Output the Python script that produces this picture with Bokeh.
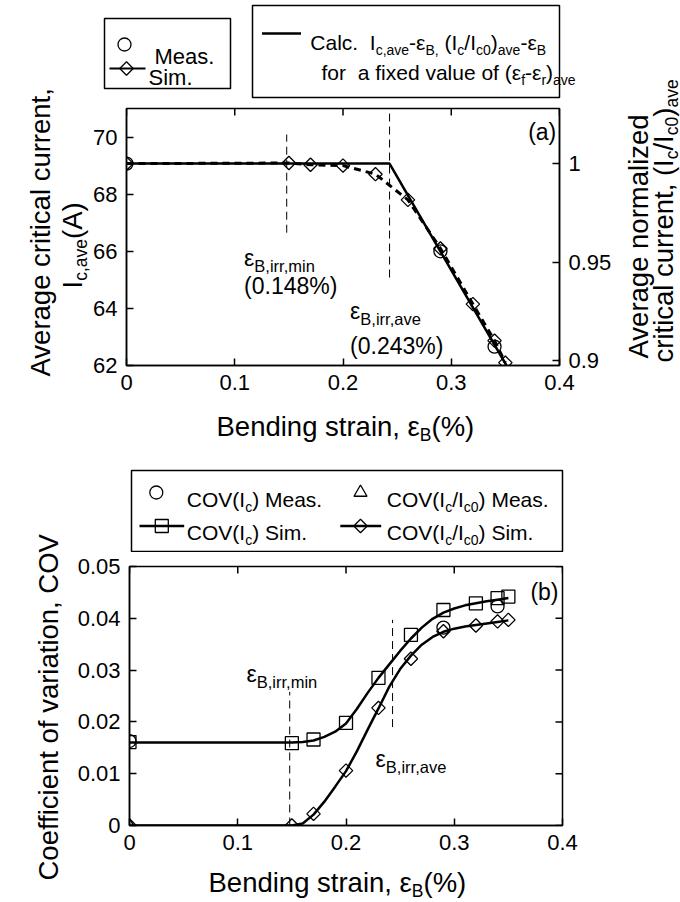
import numpy as np
from bokeh.plotting import figure
from bokeh.models import Range1d, LinearAxis, FixedTicker, NumeralTickFormatter, Label
from bokeh.layouts import column, row
from bokeh.embed import file_html
from bokeh.resources import INLINE

FONT = "Liberation Sans"

# ---------------- panel (a) data ----------------
strain_a_meas = [0.0, 0.29, 0.34]
ic_ave_meas = [69.07, 66.0, 62.66]
strain_a_sim = [0.0, 0.15, 0.17, 0.20, 0.23, 0.26, 0.29, 0.32, 0.34, 0.35]
ic_ave_sim = [69.07, 69.09, 69.03, 69.0, 68.7, 67.8, 66.1, 64.15, 62.87, 62.1]
strain_a_calc = [0.0, 0.243, 0.351]
ic_ave_calc = [69.07, 69.07, 62.0]
ic0 = 69.07
eps_irr = [0.148, 0.243]
vline_a_low = [66.65, 65.08]
vline_a_high = [70.09, 71.0]
a_xticks = [0, 0.1, 0.2, 0.3, 0.4]
a_yticks = [62, 64, 66, 68, 70]
a_rticks = [0.9, 0.95, 1.0]
a_yrange = (62, 71)
a_xrange = (0, 0.4)

# ---------------- panel (b) data ----------------
strain_b_sim = [0.0, 0.15, 0.17, 0.20, 0.23, 0.26, 0.29, 0.32, 0.34, 0.35]
cov_ic_sim = [0.0161, 0.0159, 0.0166, 0.0198, 0.0285, 0.0368, 0.0416, 0.0429, 0.0439, 0.0442]
cov_norm_sim = [0.0, 0.0, 0.00225, 0.0106, 0.0227, 0.0322, 0.0375, 0.0386, 0.0394, 0.0397]
strain_b_meas = [0.0, 0.29, 0.34]
cov_ic_meas = [0.0163, 0.0382, 0.0423]
strain_b_meas_norm = [0.0]
cov_norm_meas = [0.0]
fit_strain_b = [0.0, 0.15, 0.16, 0.17, 0.18, 0.19, 0.20, 0.21, 0.22, 0.23, 0.24,
                0.25, 0.26, 0.27, 0.28, 0.29, 0.30, 0.31, 0.32, 0.33, 0.34, 0.35]
fit_cov_ic = [0.016, 0.016, 0.0161, 0.0164, 0.0171, 0.0181, 0.0197, 0.0225, 0.0256, 0.0285, 0.0311,
              0.0337, 0.0361, 0.0382, 0.0399, 0.0411, 0.0419, 0.0425, 0.0429, 0.0433, 0.0436, 0.0439]
fit_cov_norm = [0.0, 0.0, 0.0004, 0.0021, 0.0046, 0.0075, 0.0105, 0.0143, 0.0185, 0.0226, 0.0268,
                0.0302, 0.0328, 0.0349, 0.0364, 0.0374, 0.038, 0.0384, 0.0387, 0.039, 0.0393, 0.0396]
vline_b_low = [0.0, 0.019]
vline_b_high = [0.0258, 0.0397]
b_xticks = [0, 0.1, 0.2, 0.3, 0.4]
b_yticks = [0, 0.01, 0.02, 0.03, 0.04, 0.05]
b_yrange = (0, 0.05)
b_xrange = (0, 0.4)

# ---------------- text helpers (Arial / Liberation Sans metrics) ----------------
AW = {}
for ch, w in zip("abcdefghijklmnopqrstuvwxyz",
                 [556, 556, 500, 556, 556, 278, 556, 556, 222, 222, 500, 222, 833, 556, 556, 556, 556,
                  333, 500, 278, 556, 500, 722, 500, 500, 500]):
    AW[ch] = w
for ch, w in zip("ABCDEFGHIJKLMNOPQRSTUVWXYZ",
                 [667, 667, 722, 722, 667, 611, 778, 722, 278, 500, 667, 556, 833, 722, 778, 667, 778,
                  722, 667, 611, 722, 667, 944, 667, 667, 611]):
    AW[ch] = w
for ch in "0123456789":
    AW[ch] = 556
AW.update({" ": 278, ".": 278, ",": 278, "(": 333, ")": 333, "%": 889, "/": 278, "-": 333, "ε": 446})


def tw(s, size):
    return sum(AW.get(c, 556) for c in s) * size / 1000.0


def rich(p, x, y, segs, units="data", align="left", angle=0.0):
    total = sum(tw(t, s) for t, s, _ in segs)
    pos = {"left": 0.0, "center": -total / 2.0, "right": -total}[align]
    for t, s, sh in segs:
        core = t.strip(" ")
        lead = len(t) - len(t.lstrip(" "))
        start = pos + tw(" " * lead, s)
        if angle == 0:
            xo, yo = start, -sh
        else:
            xo, yo = sh, start
        p.add_layout(Label(x=x, y=y, x_units=units, y_units=units, text=core,
                           x_offset=xo, y_offset=yo, angle=angle,
                           text_font=FONT, text_font_size=f"{s}px", text_color="black",
                           text_align="left", text_baseline="alphabetic"))
        pos += tw(t, s)


def style_axis(ax, ticks, fmt="0.[00]"):
    ax.ticker = FixedTicker(ticks=ticks)
    ax.formatter = NumeralTickFormatter(format=fmt)
    ax.major_tick_in = 7
    ax.major_tick_out = 0
    ax.minor_tick_line_color = None
    ax.axis_line_width = 1.5
    ax.axis_line_color = "black"
    ax.major_tick_line_width = 1.5
    ax.major_tick_line_color = "black"
    ax.major_label_text_font = FONT
    ax.major_label_text_color = "black"
    ax.major_label_text_font_size = "22px"
    ax.major_label_standoff = 9
    ax.axis_label = None


def canvas(x0, x1, y0, y1):
    """Axis-less figure whose data coordinates are page pixels (y downwards)."""
    f = figure(width=int(x1 - x0), height=int(y1 - y0), x_range=Range1d(x0, x1), y_range=Range1d(y1, y0),
               min_border=0, x_axis_location=None, y_axis_location=None, frame_align=False,
               toolbar_location=None, output_backend="svg", outline_line_color=None)
    f.grid.visible = False
    return f


OPEN = dict(fill_color=None, line_color="black", line_width=1.3)
DIAM = dict(marker="square", angle=np.pi / 4)
LAB = 27.5
SUB = 17.5
R90 = np.pi / 2

# ---------------- page regions (page pixels) ----------------
leftA = canvas(0, 90, 0, 397)
rightA = canvas(612, 680, 0, 397)
lega = canvas(90, 612, 0, 100)
leftB = canvas(0, 72, 397, 900)
midB = canvas(72, 680, 397, 552)
botB = canvas(72, 680, 855, 900)

# ---------------- legend (a) ----------------
lega.quad(left=[104, 252], right=[230, 559], top=[18, 5], bottom=[88, 97],
          fill_color=None, line_color="black", line_width=1.5)
lega.scatter([124], [44], marker="circle", size=13, **OPEN)
rich(lega, 154, 56, [("Meas.", 22, 0)])
lega.line([109, 145], [68, 68], line_color="black", line_width=2)
lega.scatter([126], [68], size=9.5, **DIAM, **OPEN)
rich(lega, 148, 77, [("Sim.", 22, 0)])
lega.line([261.5, 300.5], [33, 33], line_color="black", line_width=2.5)
rich(lega, 309.8, 42, [("Calc.", 21, 0), ("  I", 21, 0), ("c,ave", 14, 7), ("-ε", 21, 0), ("B,", 14, 7),
                       (" (I", 21, 0), ("c", 14, 7), ("/I", 21, 0), ("c0", 14, 7), (")", 21, 0),
                       ("ave", 14, 7), ("-ε", 21, 0), ("B", 14, 7)])
rich(lega, 321, 72, [("for", 21, 0), ("  a fixed value of (ε", 21, 0), ("f", 14, 7), ("-ε", 21, 0),
                     ("r", 14, 7), (")", 21, 0), ("ave", 14, 7)])

# ---------------- panel (a) ----------------
pa = figure(frame_width=433, frame_height=257, x_range=Range1d(*a_xrange), y_range=Range1d(*a_yrange),
            min_border_left=34, min_border_right=55, min_border_top=8, min_border_bottom=32,
            frame_align=False, toolbar_location=None, output_backend="svg")
pa.extra_y_ranges = {"norm": Range1d(a_yrange[0] / ic0, a_yrange[1] / ic0)}
pa.grid.visible = False
pa.outline_line_color = "black"
pa.outline_line_width = 1.5
style_axis(pa.xaxis[0], a_xticks)
style_axis(pa.yaxis[0], a_yticks, fmt="0")
ax_r = LinearAxis(y_range_name="norm")
style_axis(ax_r, a_rticks)
pa.add_layout(ax_r, "right")
# inward ticks on the top edge (only the inner half of a centred bar is inside the frame)
pa.rect(x=a_xticks, y=[a_yrange[1]] * len(a_xticks), width=1.5, height=14,
        width_units="screen", height_units="screen", fill_color="black", line_color=None)

pa.segment(x0=eps_irr, y0=vline_a_low, x1=eps_irr, y1=vline_a_high,
           line_color="black", line_width=1, line_dash="8 5")
pa.line(strain_a_calc, ic_ave_calc, line_color="black", line_width=2.5)
pa.line(strain_a_sim, ic_ave_sim, line_color="black", line_width=3, line_dash="7 5")
pa.scatter(strain_a_sim, ic_ave_sim, size=9.5, **DIAM, **OPEN)
pa.scatter(strain_a_meas, ic_ave_meas, marker="circle", size=13, **OPEN)

rich(pa, 0.1086, 65.77, [("ε", 23, 0), ("B,irr,min", 16.5, 8)])
rich(pa, 0.1086, 64.79, [("(0.148%)", 23, 0)])
rich(pa, 0.2065, 63.92, [("ε", 23, 0), ("B,irr,ave", 16.5, 8)])
rich(pa, 0.2065, 62.69, [("(0.243%)", 23, 0)])
rich(pa, 0.397, 70.16, [("(a)", 23, 0)], align="right")

rich(leftA, 40, 376, [("Average critical current,", LAB, 0)], angle=R90)
rich(leftA, 72, 288, [("I", LAB, 0), ("c,ave", SUB, 8), ("(A)", LAB, 0)], angle=R90)
rich(rightA, 636, 358, [("Average normalized", LAB, 0)], angle=R90)
rich(rightA, 661, 362, [("critical current, (I", LAB, 0), ("c", SUB, 8), ("/I", LAB, 0), ("c0", SUB, 8),
                        (")", LAB, 0), ("ave", SUB, 8)], angle=R90)

# ---------------- x label (a) + legend (b) ----------------
rich(midB, 216, 426, [("Bending strain, ε", LAB, 0), ("B", SUB, 8), ("(%)", LAB, 0)])
midB.quad(left=[131], right=[562], top=[470], bottom=[551],
          fill_color=None, line_color="black", line_width=1.5)
midB.scatter([155.8], [492], marker="circle", size=13, **OPEN)
midB.scatter([360], [492], marker="triangle", size=13, **OPEN)
midB.line([139, 183.7], [525.5, 525.5], line_color="black", line_width=2.5)
midB.scatter([161.3], [525.5], marker="square", size=13, **OPEN)
midB.line([339.8, 380.7], [525.5, 525.5], line_color="black", line_width=2.5)
midB.scatter([360], [525.5], size=9.5, **DIAM, **OPEN)
rich(midB, 186.3, 499, [("COV(I", 21, 0), ("c", 14, 7), (") Meas.", 21, 0)])
rich(midB, 386.3, 499, [("COV(I", 21, 0), ("c", 14, 7), ("/I", 21, 0), ("c0", 14, 7), (") Meas.", 21, 0)])
rich(midB, 186.3, 532, [("COV(I", 21, 0), ("c", 14, 7), (") Sim.", 21, 0)])
rich(midB, 386.3, 532, [("COV(I", 21, 0), ("c", 14, 7), ("/I", 21, 0), ("c0", 14, 7), (") Sim.", 21, 0)])

# ---------------- panel (b) ----------------
pb = figure(frame_width=433, frame_height=259, x_range=Range1d(*b_xrange), y_range=Range1d(*b_yrange),
            min_border_left=57, min_border_right=118, min_border_top=14, min_border_bottom=30,
            frame_align=False, toolbar_location=None, output_backend="svg")
pb.grid.visible = False
pb.outline_line_color = "black"
pb.outline_line_width = 1.5
style_axis(pb.xaxis[0], b_xticks)
style_axis(pb.yaxis[0], b_yticks)
pb.rect(x=b_xticks, y=[b_yrange[1]] * len(b_xticks), width=1.5, height=14,
        width_units="screen", height_units="screen", fill_color="black", line_color=None)
pb.rect(x=[b_xrange[1]] * len(b_yticks), y=b_yticks, width=14, height=1.5,
        width_units="screen", height_units="screen", fill_color="black", line_color=None)

pb.segment(x0=eps_irr, y0=vline_b_low, x1=eps_irr, y1=vline_b_high,
           line_color="black", line_width=1, line_dash="8 5")
pb.line(fit_strain_b, fit_cov_ic, line_color="black", line_width=2.5)
pb.line(fit_strain_b, fit_cov_norm, line_color="black", line_width=2.5)
pb.scatter(strain_b_sim, cov_ic_sim, marker="square", size=13, **OPEN)
pb.scatter(strain_b_sim, cov_norm_sim, size=9.5, **DIAM, **OPEN)
pb.scatter(strain_b_meas, cov_ic_meas, marker="circle", size=13, **OPEN)
pb.scatter(strain_b_meas_norm, cov_norm_meas, marker="triangle", size=12, **OPEN)

rich(pb, 0.1081, 0.02934, [("ε", 23, 0), ("B,irr,min", 16.5, 8)])
rich(pb, 0.2273, 0.01293, [("ε", 23, 0), ("B,irr,ave", 16.5, 8)])
rich(pb, 0.3963, 0.045, [("(b)", 23, 0)], align="right")

rich(leftB, 48, 880, [("Coefficient of variation, COV", LAB, 0)], angle=R90)
rich(botB, 208, 882, [("Bending strain, ε", LAB, 0), ("B", SUB, 8), ("(%)", LAB, 0)])

rowA = row(leftA, column(lega, pa, spacing=0), rightA, spacing=0)
rowB = row(leftB, column(midB, pb, botB, spacing=0), spacing=0)
layout = column(rowA, rowB, spacing=0)
open("out.html", "w").write(file_html(layout, INLINE))
